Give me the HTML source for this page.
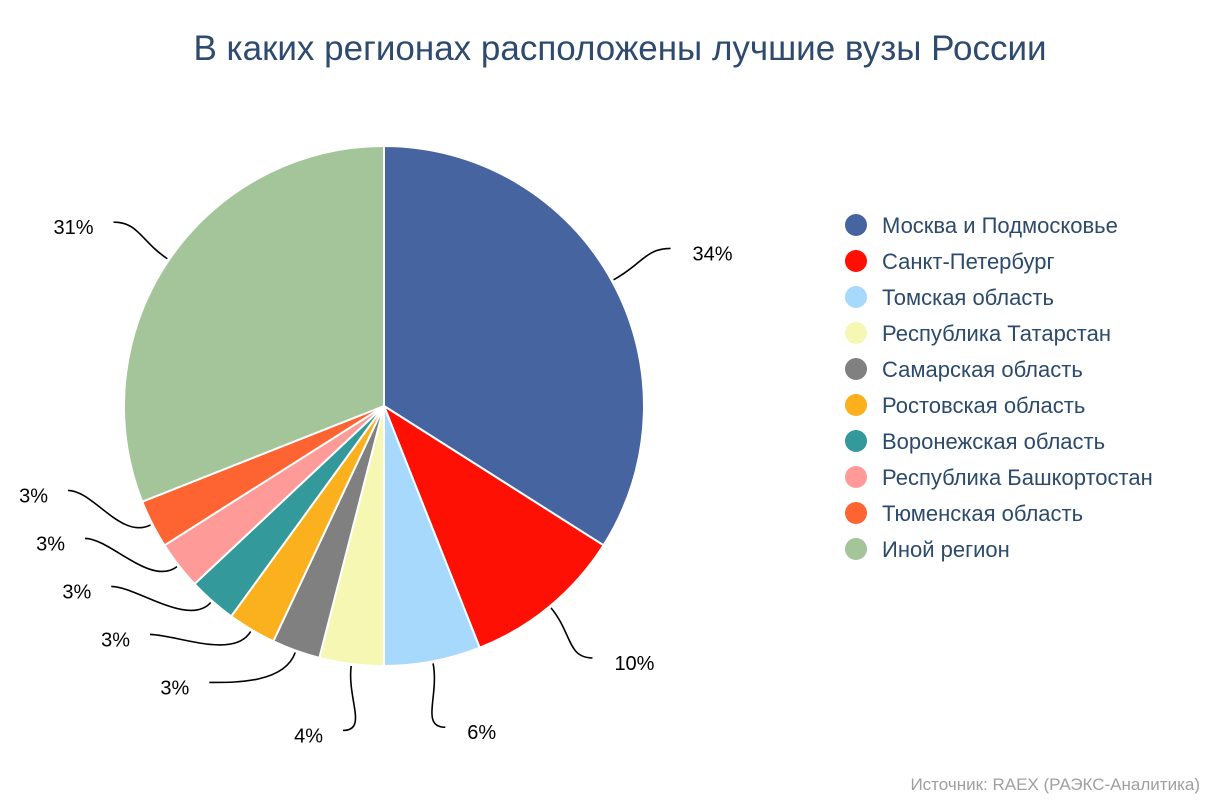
<!DOCTYPE html>
<html><head><meta charset="utf-8"><style>
body{margin:0;background:#fff;}
svg{display:block;font-family:"Liberation Sans","DejaVu Sans",sans-serif;}
</style></head><body>
<svg id="chart" width="1208" height="805" viewBox="0 0 1208 805">
<text x="620" y="60" text-anchor="middle" font-size="35" fill="#2e4a6e">В каких регионах расположены лучшие вузы России</text>
<g id="slices"></g>
<g id="labels"></g>
<g id="legend"></g>
<text x="1200" y="790" text-anchor="end" font-size="17" fill="#a0a0a0">Источник: RAEX (РАЭКС-Аналитика)</text>
</svg>
<script>
const categories = ["Москва и Подмосковье","Санкт-Петербург","Томская область","Республика Татарстан","Самарская область","Ростовская область","Воронежская область","Республика Башкортостан","Тюменская область","Иной регион"];
const values = [34,10,6,4,3,3,3,3,3,31];
const labels = ["34%","10%","6%","4%","3%","3%","3%","3%","3%","31%"];
const colors = ["#4665a0","#fe1005","#a6d9fb","#f6f7b2","#808080","#fbb01e","#33999a","#fe9b98","#fe6432","#a4c499"];

const NS="http://www.w3.org/2000/svg";
const cx=384, cy=406, R=260, RC=327;
const total=values.reduce((a,b)=>a+b,0);
function pt(r,a){return [cx+r*Math.sin(a), cy-r*Math.cos(a)];}
const sg=document.getElementById('slices'), lg=document.getElementById('labels'), leg=document.getElementById('legend');
let acc=0; const info=[];
values.forEach((v,i)=>{
  const a0=acc/total*2*Math.PI; acc+=v; const a1=acc/total*2*Math.PI;
  const p0=pt(R,a0), p1=pt(R,a1);
  const p=document.createElementNS(NS,'path');
  p.setAttribute('d',`M${cx},${cy}L${p0[0]},${p0[1]}A${R},${R} 0 ${a1-a0>Math.PI?1:0} 1 ${p1[0]},${p1[1]}Z`);
  p.setAttribute('fill',colors[i]); p.setAttribute('stroke','#fff'); p.setAttribute('stroke-width','2');
  
  
  sg.appendChild(p);
  const m=(a0+a1)/2;
  info.push({i,m,right:Math.sin(m)>=0,y:cy-RC*Math.cos(m)});
});
// left side anti-collision: go clockwise from bottom upward
const left=info.filter(d=>!d.right).sort((a,b)=>b.y-a.y);
for(let k=1;k<left.length;k++){ if(left[k].y>left[k-1].y-48) left[k].y=left[k-1].y-48; }
info.forEach(d=>{
  const dy=d.y-cy; const dx=Math.sqrt(Math.max(0,RC*RC-dy*dy));
  const ex=d.right?cx+dx:cx-dx, ey=d.y;
  const s=pt(R+2,d.m), c1=pt(R+35,d.m);
  const c2x=d.right?ex-25:ex+25;
  const path=document.createElementNS(NS,'path');
  path.setAttribute('d',`M${s[0]},${s[1]}C${c1[0]},${c1[1]} ${c2x},${ey} ${ex},${ey}`);
  path.setAttribute('fill','none'); path.setAttribute('stroke','#000'); path.setAttribute('stroke-width','1.6');
  
  
  lg.appendChild(path);
  const t=document.createElementNS(NS,'text');
  t.setAttribute('x',d.right?ex+22:ex-20); t.setAttribute('y',ey+12);
  t.setAttribute('text-anchor',d.right?'start':'end');
  t.setAttribute('font-size','20'); t.setAttribute('fill','#000');
  t.textContent=labels[d.i];
  
  
  lg.appendChild(t);
});
categories.forEach((c,i)=>{
  const y=225+i*36;
  const g=document.createElementNS(NS,'g');
  
  
  const ci=document.createElementNS(NS,'circle');
  ci.setAttribute('cx',856); ci.setAttribute('cy',y); ci.setAttribute('r',11); ci.setAttribute('fill',colors[i]);
  
  
  const t=document.createElementNS(NS,'text');
  t.setAttribute('x',882); t.setAttribute('y',y+8); t.setAttribute('font-size','22'); t.setAttribute('fill','#2c4a6b');
  t.textContent=c;
  
  
  g.appendChild(ci); g.appendChild(t); leg.appendChild(g);
});
</script>
</body></html>
